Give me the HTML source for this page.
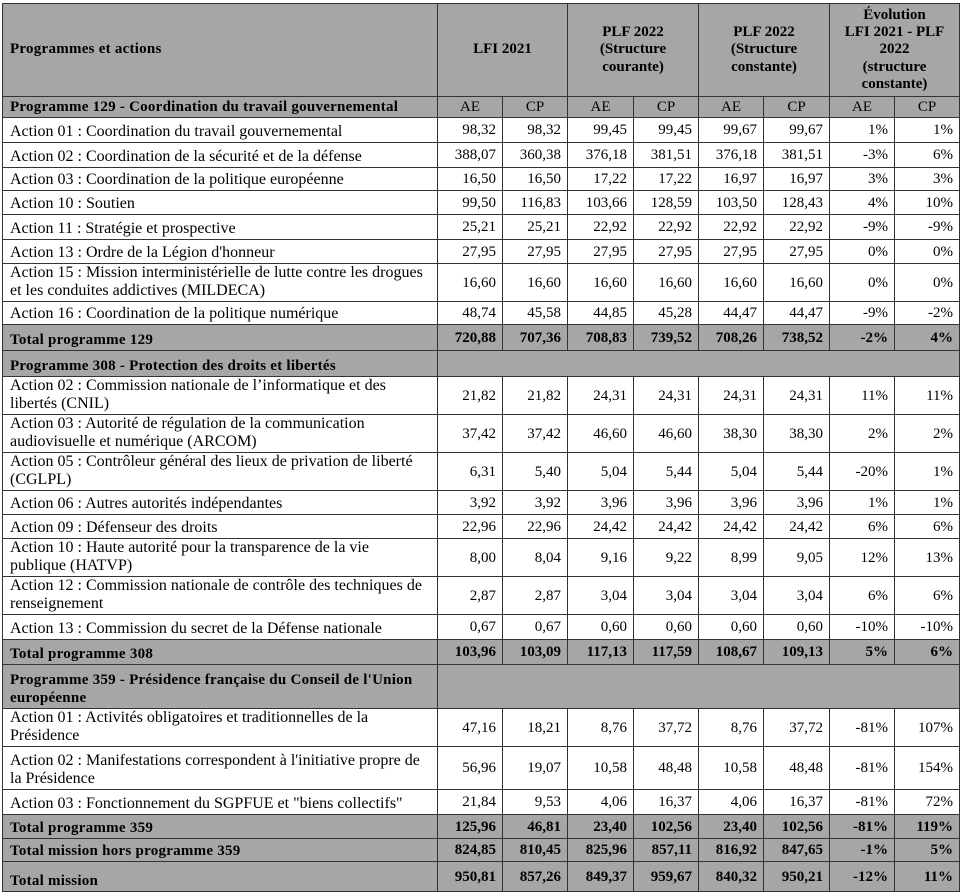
<!DOCTYPE html>
<html>
<head>
<meta charset="utf-8">
<style>
  html, body { margin:0; padding:0; background:#ffffff; }
  body { width:965px; height:892px; position:relative; overflow:hidden;
         font-family:"Liberation Serif", "DejaVu Serif", serif; font-size:15px; color:#000; }
  table { position:absolute; left:2px; top:3px; width:958px; table-layout:fixed;
          border-collapse:separate; border-spacing:0;
          border-top:1px solid #333; border-left:1px solid #333; }
  td { border-right:1px solid #333; border-bottom:1px solid #333; padding:0 6px 0 7px;
       white-space:nowrap; overflow:hidden; line-height:18px; }
  td.l { text-align:left; vertical-align:bottom; padding-bottom:1px; padding-left:7px; padding-right:0; font-size:16px; }
  .b td.l, td.l.b { font-size:15px; letter-spacing:0.25px; }
  td.n { text-align:right; vertical-align:middle; padding-right:6px; }
  td.c { text-align:center; vertical-align:middle; padding:0; }
  .g td, td.g { background:#a6a6a6; }
  .b td, td.b { font-weight:bold; }
  .hd td { font-weight:bold; text-align:center; vertical-align:middle; line-height:17.3px; padding:0; }
  .hd td.first { text-align:left; padding-left:7px; letter-spacing:0.25px; }
</style>
</head>
<body>
<table>
<colgroup>
<col style="width:435px"><col style="width:65px"><col style="width:65px"><col style="width:66px"><col style="width:65px"><col style="width:65px"><col style="width:66px"><col style="width:65px"><col style="width:65px">
</colgroup>
<tr class="g hd" style="height:93px">
  <td class="first">Programmes et actions</td>
  <td colspan="2">LFI 2021</td>
  <td colspan="2">PLF 2022<br>(Structure<br>courante)</td>
  <td colspan="2">PLF 2022<br>(Structure<br>constante)</td>
  <td colspan="2">Évolution<br>LFI 2021 - PLF<br>2022<br>(structure<br>constante)</td>
</tr>
<tr class="g" style="height:21px">
  <td class="l b">Programme 129 - Coordination du travail gouvernemental</td>
  <td class="c">AE</td><td class="c">CP</td><td class="c">AE</td><td class="c">CP</td><td class="c">AE</td><td class="c">CP</td><td class="c">AE</td><td class="c">CP</td>
</tr>
<tr style="height:25px"><td class="l">Action 01 : Coordination du travail gouvernemental</td><td class="n">98,32</td><td class="n">98,32</td><td class="n">99,45</td><td class="n">99,45</td><td class="n">99,67</td><td class="n">99,67</td><td class="n">1%</td><td class="n">1%</td></tr>
<tr style="height:25px"><td class="l">Action 02 : Coordination de la sécurité et de la défense</td><td class="n">388,07</td><td class="n">360,38</td><td class="n">376,18</td><td class="n">381,51</td><td class="n">376,18</td><td class="n">381,51</td><td class="n">-3%</td><td class="n">6%</td></tr>
<tr style="height:23px"><td class="l">Action 03 : Coordination de la politique européenne</td><td class="n">16,50</td><td class="n">16,50</td><td class="n">17,22</td><td class="n">17,22</td><td class="n">16,97</td><td class="n">16,97</td><td class="n">3%</td><td class="n">3%</td></tr>
<tr style="height:24px"><td class="l">Action 10 : Soutien</td><td class="n">99,50</td><td class="n">116,83</td><td class="n">103,66</td><td class="n">128,59</td><td class="n">103,50</td><td class="n">128,43</td><td class="n">4%</td><td class="n">10%</td></tr>
<tr style="height:25px"><td class="l">Action 11 : Stratégie et prospective</td><td class="n">25,21</td><td class="n">25,21</td><td class="n">22,92</td><td class="n">22,92</td><td class="n">22,92</td><td class="n">22,92</td><td class="n">-9%</td><td class="n">-9%</td></tr>
<tr style="height:24px"><td class="l">Action 13 : Ordre de la Légion d'honneur</td><td class="n">27,95</td><td class="n">27,95</td><td class="n">27,95</td><td class="n">27,95</td><td class="n">27,95</td><td class="n">27,95</td><td class="n">0%</td><td class="n">0%</td></tr>
<tr style="height:38px"><td class="l">Action 15 : Mission interministérielle de lutte contre les drogues<br>et les conduites addictives (MILDECA)</td><td class="n">16,60</td><td class="n">16,60</td><td class="n">16,60</td><td class="n">16,60</td><td class="n">16,60</td><td class="n">16,60</td><td class="n">0%</td><td class="n">0%</td></tr>
<tr style="height:23px"><td class="l">Action 16 : Coordination de la politique numérique</td><td class="n">48,74</td><td class="n">45,58</td><td class="n">44,85</td><td class="n">45,28</td><td class="n">44,47</td><td class="n">44,47</td><td class="n">-9%</td><td class="n">-2%</td></tr>
<tr class="g b" style="height:26px"><td class="l">Total programme 129</td><td class="n">720,88</td><td class="n">707,36</td><td class="n">708,83</td><td class="n">739,52</td><td class="n">708,26</td><td class="n">738,52</td><td class="n">-2%</td><td class="n">4%</td></tr>
<tr class="g" style="height:26px"><td class="l b">Programme 308 - Protection des droits et libertés</td><td colspan="8"></td></tr>
<tr style="height:37px"><td class="l">Action 02 : Commission nationale de l’informatique et des<br>libertés (CNIL)</td><td class="n">21,82</td><td class="n">21,82</td><td class="n">24,31</td><td class="n">24,31</td><td class="n">24,31</td><td class="n">24,31</td><td class="n">11%</td><td class="n">11%</td></tr>
<tr style="height:38px"><td class="l">Action 03 : Autorité de régulation de la communication<br>audiovisuelle et numérique (ARCOM)</td><td class="n">37,42</td><td class="n">37,42</td><td class="n">46,60</td><td class="n">46,60</td><td class="n">38,30</td><td class="n">38,30</td><td class="n">2%</td><td class="n">2%</td></tr>
<tr style="height:37px"><td class="l">Action 05 : Contrôleur général des lieux de privation de liberté<br>(CGLPL)</td><td class="n">6,31</td><td class="n">5,40</td><td class="n">5,04</td><td class="n">5,44</td><td class="n">5,04</td><td class="n">5,44</td><td class="n">-20%</td><td class="n">1%</td></tr>
<tr style="height:24px"><td class="l">Action 06 : Autres autorités indépendantes</td><td class="n">3,92</td><td class="n">3,92</td><td class="n">3,96</td><td class="n">3,96</td><td class="n">3,96</td><td class="n">3,96</td><td class="n">1%</td><td class="n">1%</td></tr>
<tr style="height:24px"><td class="l">Action 09 : Défenseur des droits</td><td class="n">22,96</td><td class="n">22,96</td><td class="n">24,42</td><td class="n">24,42</td><td class="n">24,42</td><td class="n">24,42</td><td class="n">6%</td><td class="n">6%</td></tr>
<tr style="height:37px"><td class="l">Action 10 : Haute autorité pour la transparence de la vie<br>publique (HATVP)</td><td class="n">8,00</td><td class="n">8,04</td><td class="n">9,16</td><td class="n">9,22</td><td class="n">8,99</td><td class="n">9,05</td><td class="n">12%</td><td class="n">13%</td></tr>
<tr style="height:38px"><td class="l">Action 12 : Commission nationale de contrôle des techniques de<br>renseignement</td><td class="n">2,87</td><td class="n">2,87</td><td class="n">3,04</td><td class="n">3,04</td><td class="n">3,04</td><td class="n">3,04</td><td class="n">6%</td><td class="n">6%</td></tr>
<tr style="height:25px"><td class="l">Action 13 : Commission du secret de la Défense nationale</td><td class="n">0,67</td><td class="n">0,67</td><td class="n">0,60</td><td class="n">0,60</td><td class="n">0,60</td><td class="n">0,60</td><td class="n">-10%</td><td class="n">-10%</td></tr>
<tr class="g b" style="height:25px"><td class="l">Total programme 308</td><td class="n">103,96</td><td class="n">103,09</td><td class="n">117,13</td><td class="n">117,59</td><td class="n">108,67</td><td class="n">109,13</td><td class="n">5%</td><td class="n">6%</td></tr>
<tr class="g" style="height:44px"><td class="l b">Programme 359 - Présidence française du Conseil de l'Union<br>européenne</td><td colspan="8"></td></tr>
<tr style="height:38px"><td class="l">Action 01 : Activités obligatoires et traditionnelles de la<br>Présidence</td><td class="n">47,16</td><td class="n">18,21</td><td class="n">8,76</td><td class="n">37,72</td><td class="n">8,76</td><td class="n">37,72</td><td class="n">-81%</td><td class="n">107%</td></tr>
<tr style="height:43px"><td class="l">Action 02 : Manifestations correspondent à l'initiative propre de<br>la Présidence</td><td class="n">56,96</td><td class="n">19,07</td><td class="n">10,58</td><td class="n">48,48</td><td class="n">10,58</td><td class="n">48,48</td><td class="n">-81%</td><td class="n">154%</td></tr>
<tr style="height:25px"><td class="l">Action 03 : Fonctionnement du SGPFUE et "biens collectifs"</td><td class="n">21,84</td><td class="n">9,53</td><td class="n">4,06</td><td class="n">16,37</td><td class="n">4,06</td><td class="n">16,37</td><td class="n">-81%</td><td class="n">72%</td></tr>
<tr class="g b" style="height:24px"><td class="l">Total programme 359</td><td class="n">125,96</td><td class="n">46,81</td><td class="n">23,40</td><td class="n">102,56</td><td class="n">23,40</td><td class="n">102,56</td><td class="n">-81%</td><td class="n">119%</td></tr>
<tr class="g b" style="height:23px"><td class="l">Total mission hors programme 359</td><td class="n">824,85</td><td class="n">810,45</td><td class="n">825,96</td><td class="n">857,11</td><td class="n">816,92</td><td class="n">847,65</td><td class="n">-1%</td><td class="n">5%</td></tr>
<tr class="g b" style="height:30px"><td class="l">Total mission</td><td class="n">950,81</td><td class="n">857,26</td><td class="n">849,37</td><td class="n">959,67</td><td class="n">840,32</td><td class="n">950,21</td><td class="n">-12%</td><td class="n">11%</td></tr>
</table>
</body>
</html>
